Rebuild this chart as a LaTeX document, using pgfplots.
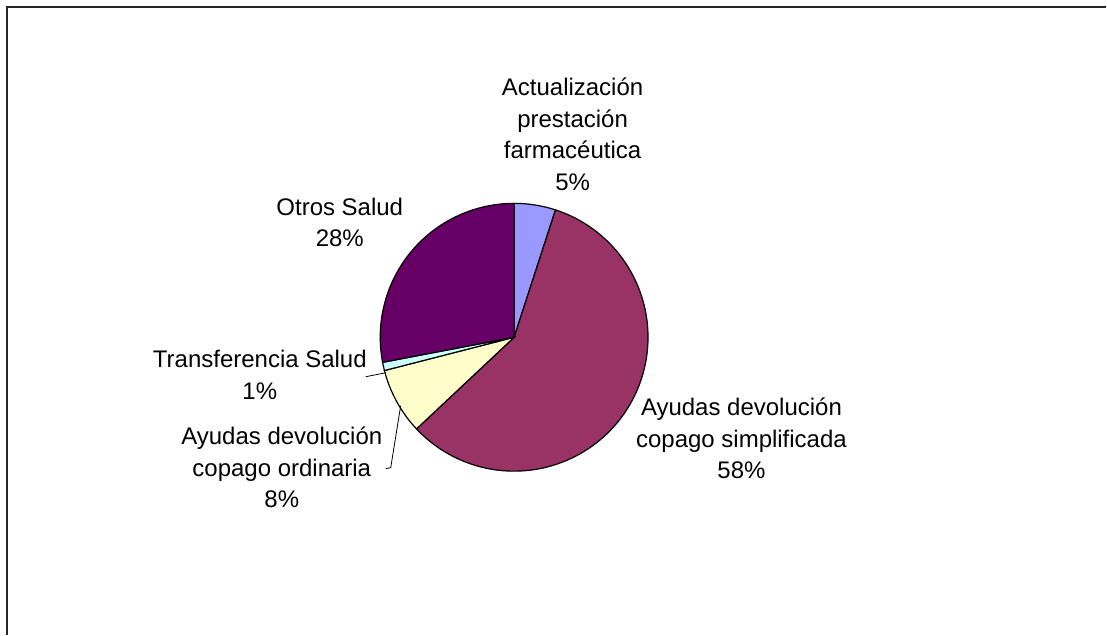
\documentclass[border=0pt]{standalone}
\usepackage{pgfplots}
\pgfplotsset{compat=1.18}
\usepackage{fontspec}
\setmainfont{Liberation Sans}
\definecolor{cA}{HTML}{9999FF}
\definecolor{cB}{HTML}{993366}
\definecolor{cC}{HTML}{FFFFCC}
\definecolor{cD}{HTML}{CCFFFF}
\definecolor{cE}{HTML}{660066}
% data (percent)
\def\vA{5}  % Actualizacion prestacion farmaceutica
\def\vB{58} % Ayudas devolucion copago simplificada
\def\vC{8}  % Ayudas devolucion copago ordinaria
\def\vD{1}  % Transferencia Salud
\def\vE{28} % Otros Salud
\pgfmathsetmacro\aA{90}
\pgfmathsetmacro\aB{\aA-3.6*\vA}
\pgfmathsetmacro\aC{\aB-3.6*\vB}
\pgfmathsetmacro\aD{\aC-3.6*\vC}
\pgfmathsetmacro\aE{\aD-3.6*\vD}
\pgfmathsetmacro\aF{\aE-3.6*\vE}
\def\cx{514.5}
\def\cy{297.5}
\def\r{134}
\begin{document}
\begin{tikzpicture}
\begin{axis}[x=0.75pt,y=0.75pt,xmin=0,xmax=1107,ymin=0,ymax=635,hide axis,clip=false]
\path (0,0) rectangle (1107,635);
\draw[line width=1.2pt,black!85] (7,0) -- (7,628) -- (1107,628);
\addplot[fill=cA,draw=black,line width=0.9pt,domain=\aB:\aA,samples=40] ({\cx+\r*cos(x)},{\cy+\r*sin(x)}) -- (\cx,\cy) -- cycle;
\addplot[fill=cB,draw=black,line width=0.9pt,domain=\aC:\aB,samples=120] ({\cx+\r*cos(x)},{\cy+\r*sin(x)}) -- (\cx,\cy) -- cycle;
\addplot[fill=cC,draw=black,line width=0.9pt,domain=\aD:\aC,samples=40] ({\cx+\r*cos(x)},{\cy+\r*sin(x)}) -- (\cx,\cy) -- cycle;
\addplot[fill=cD,draw=black,line width=0.9pt,domain=\aE:\aD,samples=10] ({\cx+\r*cos(x)},{\cy+\r*sin(x)}) -- (\cx,\cy) -- cycle;
\addplot[fill=cE,draw=black,line width=0.9pt,domain=\aF:\aE,samples=80] ({\cx+\r*cos(x)},{\cy+\r*sin(x)}) -- (\cx,\cy) -- cycle;
\begin{scope}[every node/.style={align=center,font=\fontsize{18}{23.6}\selectfont,inner sep=0pt}]
\node at (573,500.5) {Actualización\\prestación\\farmacéutica\\5\%};
\node at (742,196) {Ayudas devolución\\copago simplificada\\58\%};
\node at (340,412.5) {Otros Salud\\28\%};
\node at (260,260) {Transferencia Salud\\1\%};
\node at (282,167) {Ayudas devolución\\copago ordinaria\\8\%};
\end{scope}
\draw[black,line width=0.6pt] (366,258) -- (386,262);
\draw[black,line width=0.6pt] (386,166) -- (391,167) -- (401,229);
\end{axis}
\end{tikzpicture}
\end{document}
